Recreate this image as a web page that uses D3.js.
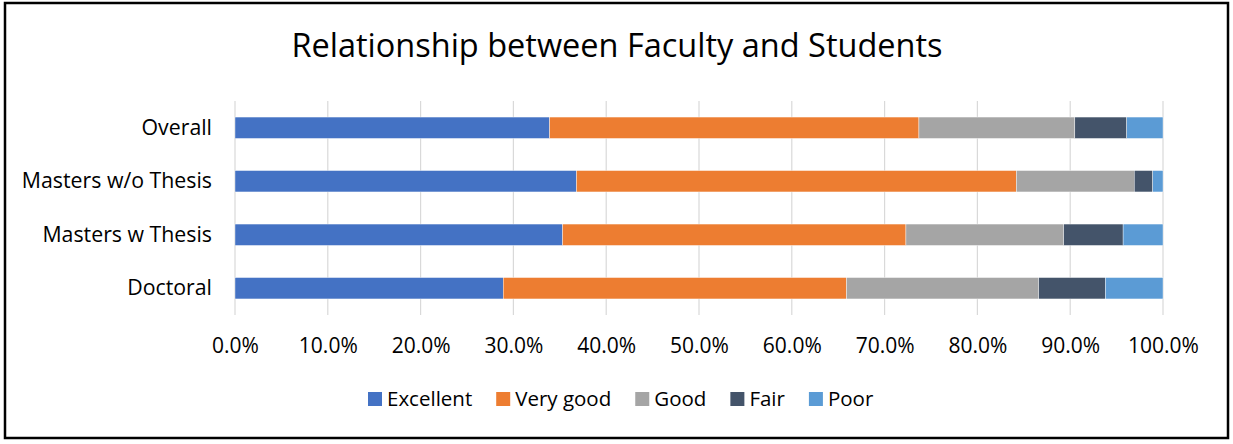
<!DOCTYPE html>
<html>
<head>
<meta charset="utf-8">
<script src="https://cdn.jsdelivr.net/npm/d3@7"></script>
<style>
  html, body { margin: 0; padding: 0; background: #fff; }
  svg text { font-family: "Open Sans", Lato, sans-serif; fill: #000; }
</style>
</head>
<body>
<div id="chart"></div>
<script>
// data (percent of respondents)
var categories = ["Overall", "Masters w/o Thesis", "Masters w Thesis", "Doctoral"];
var ratings = ["Excellent", "Very good", "Good", "Fair", "Poor"];
var excellent = [33.9, 36.8, 35.3, 28.9];
var veryGood  = [39.8, 47.4, 37.0, 37.0];
var good      = [16.8, 12.7, 17.0, 20.7];
var fair      = [5.6, 2.0, 6.4, 7.2];
var poor      = [3.9, 1.1, 4.3, 6.2];
var colors = ["#4472C4", "#ED7D31", "#A5A5A5", "#44546A", "#5B9BD5"];
var ticks = [0, 10, 20, 30, 40, 50, 60, 70, 80, 90, 100];

var W = 1233, H = 444;
var margin = {top: 101, right: 70, bottom: 129, left: 235};

var series = [excellent, veryGood, good, fair, poor];
var rows = categories.map(function(c, i) {
  var r = {cat: c};
  ratings.forEach(function(k, j) { r[k] = series[j][i]; });
  return r;
});

var svg = d3.select("#chart").append("svg")
  .attr("width", W).attr("height", H);

/* outer frame */
svg.append("rect")
  .attr("x", 5).attr("y", 3)
  .attr("width", 1223).attr("height", 435)
  .attr("fill", "#fff")
  .attr("stroke", "#000")
  .attr("stroke-width", 2.5);

svg.append("text")
  .attr("x", 617).attr("y", 57)
  .attr("text-anchor", "middle")
  .style("font-size", "32.5px")
  .text("Relationship between Faculty and Students");

var x = d3.scaleLinear()
  .domain([0, 100])
  .range([margin.left, W - margin.right]);
var y = d3.scaleBand()
  .domain(categories)
  .range([margin.top, H - margin.bottom])
  .paddingInner(0.6)
  .paddingOuter(0.3);

/* gridlines */
svg.append("g")
  .selectAll("line")
  .data(ticks)
  .enter().append("line")
  .attr("x1", function(d) { return x(d); })
  .attr("x2", function(d) { return x(d); })
  .attr("y1", margin.top)
  .attr("y2", H - margin.bottom)
  .attr("stroke", "#d9d9d9")
  .attr("stroke-width", 1.2);

/* bars */
var stacked = d3.stack().keys(ratings)(rows);
svg.append("g")
  .selectAll("g")
  .data(stacked)
  .enter().append("g")
  .attr("fill", function(d, i) { return colors[i]; })
  .selectAll("rect")
  .data(function(d) { return d; })
  .enter().append("rect")
  .attr("x", function(d) { return x(d[0]); })
  .attr("width", function(d) { return x(d[1]) - x(d[0]); })
  .attr("y", function(d) { return y(d.data.cat); })
  .attr("height", y.bandwidth())
  .attr("stroke", "#fff")
  .attr("stroke-width", 0.4);

/* x axis labels */
var xAxis = svg.append("g")
  .attr("transform", "translate(0," + (H - margin.bottom) + ")")
  .call(d3.axisBottom(x).tickValues(ticks)
    .tickFormat(function(d) { return d3.format(".1f")(d) + "%"; })
    .tickSize(0).tickPadding(23));
xAxis.select(".domain").remove();
xAxis.selectAll("text")
  .style("font-size", "21px")
  .style("font-family", "'Open Sans', sans-serif");

/* category labels */
var yAxis = svg.append("g")
  .attr("transform", "translate(" + (margin.left - 23) + ",0)")
  .call(d3.axisLeft(y).tickSize(0).tickPadding(0));
yAxis.select(".domain").remove();
yAxis.selectAll("text")
  .style("font-size", "21.3px")
  .style("font-family", "'Open Sans', sans-serif");

/* legend */
var legend = svg.append("g").attr("transform", "translate(0,392)");
var lx = 368;
ratings.forEach(function(k, i) {
  legend.append("rect")
    .attr("x", lx).attr("y", 0)
    .attr("width", 14).attr("height", 14)
    .attr("fill", colors[i]);
  var t = legend.append("text")
    .attr("x", lx + 19).attr("y", 14)
    .style("font-size", "20.5px")
    .text(k);
  lx += 19 + t.node().getComputedTextLength() + 24;
});
</script>
</body>
</html>
